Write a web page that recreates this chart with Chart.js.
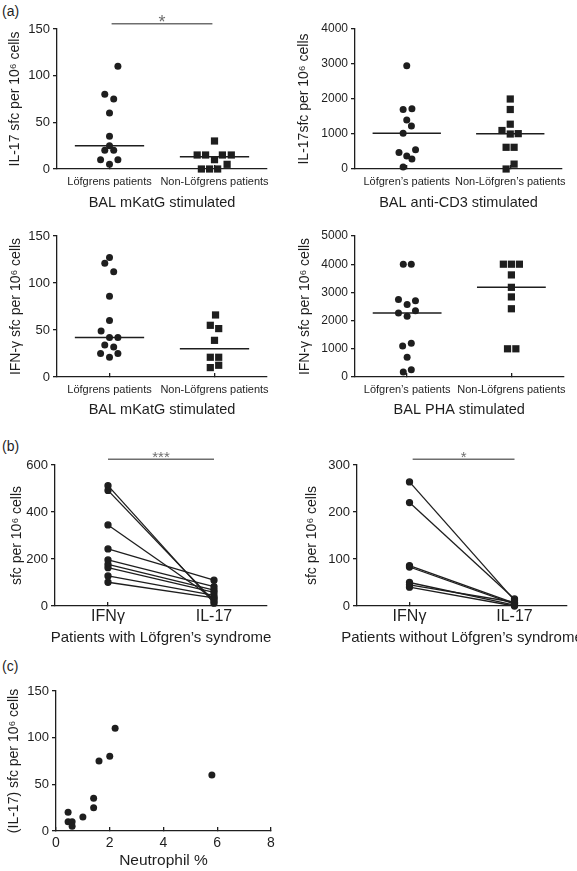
<!DOCTYPE html>
<html>
<head>
<meta charset="utf-8">
<script src="https://cdn.jsdelivr.net/npm/chart.js@4.4.1/dist/chart.umd.min.js"></script>
<style>
  body { margin: 0; background: #fff; }
  #page { position: relative; width: 577px; height: 871px; overflow: hidden; font-family: "Liberation Sans", Arial, sans-serif; }
  #page canvas { position: absolute; }
  .tag { position: absolute; font-size: 14px; line-height: 16px; color: #1e1e1e; }
</style>
</head>
<body>
<div id="page">
  <div class="tag" style="left:2px;top:3px">(a)</div>
  <div class="tag" style="left:2px;top:438px">(b)</div>
  <div class="tag" style="left:2px;top:658px">(c)</div>
  <canvas id="il17Mk" width="290" height="215" style="left:0;top:0;width:290px;height:215px"></canvas>
  <canvas id="il17Cd3" width="287" height="215" style="left:290px;top:0;width:287px;height:215px"></canvas>
  <canvas id="ifnMk" width="290" height="215" style="left:0;top:207px;width:290px;height:215px"></canvas>
  <canvas id="ifnPha" width="287" height="215" style="left:290px;top:207px;width:287px;height:215px"></canvas>
  <canvas id="pairWith" width="290" height="215" style="left:0;top:436px;width:290px;height:215px"></canvas>
  <canvas id="pairWithout" width="287" height="215" style="left:290px;top:436px;width:287px;height:215px"></canvas>
  <canvas id="neutro" width="290" height="209" style="left:0;top:662px;width:290px;height:209px"></canvas>
</div>
<script>
// ---- data ----

// (a) group names
const groupsMk = ['Löfgrens patients', 'Non-Löfgrens patients'];
const groupsCd3 = ['Löfgren’s patients', 'Non-Löfgren’s patients'];
const groupsPha = ['Löfgren’s patients', 'Non-Löfgrens patients'];

// IL-17, BAL mKatG stimulated (x jitter in category units)
const il17MkLof = [110, 80, 75, 60, 35, 25, 20, 20, 10, 10, 5];
const il17MkLofJit = [0.08, -0.045, 0.04, 0, 0, 0, -0.045, 0.04, -0.085, 0.08, 0];
const il17MkNon = [30, 15, 15, 15, 15, 10, 5, 0, 0, 0];
const il17MkNonJit = [0, -0.165, -0.085, 0.075, 0.16, 0, 0.12, -0.125, -0.047, 0.03];
const il17MkMedian = [25, 13];

// IL-17, BAL anti-CD3 stimulated
const il17Cd3Lof = [2950, 1720, 1700, 1400, 1230, 1020, 550, 475, 370, 285, 57];
const il17Cd3LofJit = [0, 0.05, -0.035, 0, 0.045, -0.035, 0.085, -0.075, 0, 0.05, -0.035];
const il17Cd3Non = [2000, 1700, 1280, 1100, 1000, 1010, 620, 620, 140, 0];
const il17Cd3NonJit = [0, 0, 0, -0.08, 0, 0.077, -0.04, 0.037, 0.037, -0.04];
const il17Cd3Median = [1020, 1005];

// IFN-gamma, BAL mKatG stimulated
const ifnMkLof = [127, 121, 112, 86, 60, 49, 42, 42, 34, 32, 25, 25, 21];
const ifnMkLofJit = [0, -0.045, 0.04, 0, 0, -0.08, 0, 0.08, -0.045, 0.04, -0.085, 0.08, 0];
const ifnMkNon = [66, 55, 51.5, 39, 21, 21, 12.5, 10];
const ifnMkNonJit = [0.01, -0.04, 0.04, 0, -0.04, 0.04, 0.04, -0.04];
const ifnMkMedian = [42, 30];

// IFN-gamma, BAL PHA stimulated
const ifnPhaLof = [4000, 4000, 2750, 2700, 2570, 2350, 2270, 2150, 1200, 1100, 700, 260, 180];
const ifnPhaLofJit = [-0.037, 0.04, -0.083, 0.08, 0, 0.08, -0.083, 0, 0.04, -0.043, 0, 0.04, -0.037];
const ifnPhaNon = [4000, 4000, 4000, 3620, 3180, 2840, 2420, 1000, 1000];
const ifnPhaNonJit = [-0.077, 0, 0.077, 0, 0, 0, 0, -0.037, 0.043];
const ifnPhaMedian = [2270, 3180];

// (b) paired values per patient
const pairLabels = ['IFNγ', 'IL-17'];
const withLofIfn = [512, 492, 345, 243, 196, 177, 163, 128, 101];
const withLofIl17 = [12, 20, 30, 110, 82, 68, 58, 45, 35];
const withoutLofIfn = [264, 220, 86, 83, 50, 45, 40];
const withoutLofIl17 = [12, 15, 6, 4, 2, 8, 0];

// (c) neutrophil % vs IL-17
const neutrophilPct = [0.45, 0.45, 0.6, 0.6, 1.0, 1.4, 1.4, 1.6, 2.0, 2.2, 5.8];
const il17Sfc = [20, 10, 10, 5, 15, 35, 25, 75, 80, 110, 60];

// significance bars: [from, to, value]
const sigIl17Mk = [1.02, 1.98, 155.5];
const sigWith = [1, 2, 625];
const sigWithout = [1.03, 2, 312];

// ---- drawing ----
const FONT = '"Liberation Sans", Arial, Helvetica, sans-serif';
const INK = '#1e1e1e';
const SIG = '#6e6e6e';

// star above a significance bar, and the x caption (drawn without width squeeze)
const extraText = {
    id: 'extraText',
    afterDatasetsDraw(chart) {
        const ctx = chart.ctx;
        const area = chart.chartArea;
        const s = chart.options.plugins.sigMark;
        const c = chart.options.plugins.xCaption;
        ctx.save();
        ctx.textAlign = 'center';
        if (s && s.text) {
            const x = chart.scales.x.getPixelForValue((s.bar[0] + s.bar[1]) / 2);
            const y = chart.scales.y.getPixelForValue(s.bar[2]);
            ctx.fillStyle = SIG;
            ctx.font = s.size + 'px ' + FONT;
            ctx.textBaseline = 'alphabetic';
            ctx.fillText(s.text, x, y + s.lift);
        }
        if (c && c.text) {
            ctx.fillStyle = INK;
            ctx.font = c.size + 'px ' + FONT;
            ctx.textBaseline = 'middle';
            ctx.fillText(c.text, (area.left + area.right) / 2, area.bottom + c.below);
        }
        ctx.restore();
    }
};

function yAxis(max, step, title, width, titlePad, tickSize) {
    return {
        type: 'linear', position: 'left', min: 0, max: max,
        afterFit: s => { s.width = width; },
        ticks: { stepSize: step, padding: 3, color: INK, font: { family: FONT, size: tickSize }, callback: v => String(v) },
        grid: { display: true, drawOnChartArea: false, drawTicks: true, tickLength: 4, color: INK, lineWidth: 1.3 },
        border: { display: true, color: INK, width: 1.3 },
        title: { display: true, text: title, color: INK, font: { family: FONT, size: 14 }, padding: { top: titlePad, bottom: 0 } }
    };
}

function catAxis(labels, height, labelSize, labelPad) {
    return {
        type: 'linear', position: 'bottom', min: 0.5, max: 2.5,
        afterBuildTicks: s => { s.ticks = labels.map((l, i) => ({ value: i + 1 })); },
        afterFit: s => { s.height = height; },
        ticks: {
            callback: v => labels[v - 1], autoSkip: false, maxRotation: 0, minRotation: 0,
            padding: labelPad, color: INK, font: { family: FONT, size: labelSize }
        },
        grid: { display: true, drawOnChartArea: false, drawTicks: true, tickLength: -4, color: INK, lineWidth: 1.3 },
        border: { display: true, color: INK, width: 1.3 }
    };
}

function jitter(vals, jit, c) {
    return vals.map((v, i) => ({ x: c + jit[i], y: v }));
}

function medianLine(c, m) {
    return { data: [{ x: c - 0.33, y: m }, { x: c + 0.33, y: m }], showLine: true, borderColor: INK, borderWidth: 1.5, pointRadius: 0, clip: false };
}

function sigLine(bar) {
    return { data: [{ x: bar[0], y: bar[2] }, { x: bar[1], y: bar[2] }], showLine: true, borderColor: SIG, borderWidth: 1.5, pointRadius: 0, clip: false };
}

function baseOptions(pad, scales, caption, mark) {
    return {
        responsive: false, animation: false, devicePixelRatio: 1,
        layout: { padding: pad },
        scales: scales,
        plugins: { legend: { display: false }, tooltip: { enabled: false }, xCaption: caption, sigMark: mark || {} }
    };
}

// one dot plot of panel (a)
function dotPlot(id, p) {
    const datasets = [
        { data: jitter(p.lof, p.lofJit, 1), pointStyle: 'circle', pointRadius: 3.5, backgroundColor: INK, borderWidth: 0, clip: false },
        { data: jitter(p.non, p.nonJit, 2), pointStyle: 'rect', pointRadius: 5.1, backgroundColor: INK, borderWidth: 0, clip: false },
        medianLine(1, p.median[0]),
        medianLine(2, p.median[1])
    ];
    if (p.sig) datasets.push(sigLine(p.sig));
    return new Chart(document.getElementById(id), {
        type: 'scatter',
        data: { datasets: datasets },
        options: baseOptions(p.pad, {
            x: catAxis(p.groups, p.xHeight, 11, 10),
            y: yAxis(p.yMax, p.yStep, p.yTitle, p.yWidth, p.yTitlePad, p.yTick)
        }, { text: p.xTitle, size: 14.5, below: p.captionY },
        p.sig ? { text: '*', bar: p.sig, size: 18, lift: 4 } : null),
        plugins: [extraText]
    });
}

// paired lines of panel (b)
function pairPlot(id, p) {
    const datasets = p.ifn.map((v, i) => ({
        data: [{ x: 1, y: v }, { x: 2, y: p.il17[i] }],
        showLine: true, borderColor: INK, borderWidth: 1.3,
        pointRadius: 3, backgroundColor: INK, clip: false
    }));
    datasets.push(sigLine(p.sig));
    return new Chart(document.getElementById(id), {
        type: 'scatter',
        data: { datasets: datasets },
        options: baseOptions(p.pad, {
            x: catAxis(pairLabels, 41, 16, 5),
            y: yAxis(p.yMax, p.yStep, 'sfc per 10⁶ cells', p.yWidth, p.yTitlePad, 13)
        }, { text: p.xTitle, size: 15, below: 32 },
        { text: p.mark, bar: p.sig, size: 15, lift: 3 }),
        plugins: [extraText]
    });
}

dotPlot('il17Mk', {
    groups: groupsMk, lof: il17MkLof, lofJit: il17MkLofJit, non: il17MkNon, nonJit: il17MkNonJit,
    median: il17MkMedian, sig: sigIl17Mk, yMax: 150, yStep: 50, yTick: 13,
    yTitle: 'IL-17 sfc per 10⁶ cells', xTitle: 'BAL mKatG stimulated',
    pad: { left: 0, top: 29, right: 23, bottom: 4 }, yWidth: 57, yTitlePad: 7, xHeight: 42, captionY: 34
});

dotPlot('il17Cd3', {
    groups: groupsCd3, lof: il17Cd3Lof, lofJit: il17Cd3LofJit, non: il17Cd3Non, nonJit: il17Cd3NonJit,
    median: il17Cd3Median, yMax: 4000, yStep: 1000, yTick: 12,
    yTitle: 'IL-17sfc per 10⁶ cells', xTitle: 'BAL anti-CD3 stimulated',
    pad: { left: 0, top: 29, right: 6, bottom: 4 }, yWidth: 65, yTitlePad: 6, xHeight: 42, captionY: 34
});

dotPlot('ifnMk', {
    groups: groupsMk, lof: ifnMkLof, lofJit: ifnMkLofJit, non: ifnMkNon, nonJit: ifnMkNonJit,
    median: ifnMkMedian, yMax: 150, yStep: 50, yTick: 13,
    yTitle: 'IFN-γ sfc per 10⁶ cells', xTitle: 'BAL mKatG stimulated',
    pad: { left: 0, top: 29, right: 23, bottom: 4 }, yWidth: 57, yTitlePad: 8, xHeight: 41, captionY: 33
});

dotPlot('ifnPha', {
    groups: groupsPha, lof: ifnPhaLof, lofJit: ifnPhaLofJit, non: ifnPhaNon, nonJit: ifnPhaNonJit,
    median: ifnPhaMedian, yMax: 5000, yStep: 1000, yTick: 12,
    yTitle: 'IFN-γ sfc per 10⁶ cells', xTitle: 'BAL PHA stimulated',
    pad: { left: 0, top: 29, right: 6, bottom: 4 }, yWidth: 65, yTitlePad: 7, xHeight: 41, captionY: 33
});

pairPlot('pairWith', {
    ifn: withLofIfn, il17: withLofIl17, sig: sigWith, mark: '***',
    yMax: 600, yStep: 200, xTitle: 'Patients with Löfgren’s syndrome',
    pad: { left: 0, top: 29, right: 23, bottom: 4 }, yWidth: 55, yTitlePad: 9
});

pairPlot('pairWithout', {
    ifn: withoutLofIfn, il17: withoutLofIl17, sig: sigWithout, mark: '*',
    yMax: 300, yStep: 100, xTitle: 'Patients without Löfgren’s syndrome',
    pad: { left: 0, top: 29, right: 10, bottom: 4 }, yWidth: 67, yTitlePad: 14
});

// (c) scatter
new Chart(document.getElementById('neutro'), {
    type: 'scatter',
    data: {
        datasets: [{
            data: neutrophilPct.map((x, i) => ({ x: x, y: il17Sfc[i] })),
            pointStyle: 'circle', pointRadius: 3.5, backgroundColor: INK, borderWidth: 0, clip: false
        }]
    },
    options: baseOptions({ left: 0, top: 29, right: 19, bottom: 2 }, {
        x: {
            type: 'linear', position: 'bottom', min: 0, max: 8,
            afterFit: s => { s.height = 38; },
            ticks: { stepSize: 2, padding: 8, color: INK, font: { family: FONT, size: 14 } },
            grid: { display: true, drawOnChartArea: false, drawTicks: true, tickLength: -4, color: INK, lineWidth: 1.3 },
            border: { display: true, color: INK, width: 1.3 }
        },
        y: yAxis(150, 50, '(IL-17) sfc per 10⁶ cells', 56, 6, 13)
    }, { text: 'Neutrophil %', size: 15.5, below: 30 }),
    plugins: [extraText]
});
</script>
</body>
</html>
